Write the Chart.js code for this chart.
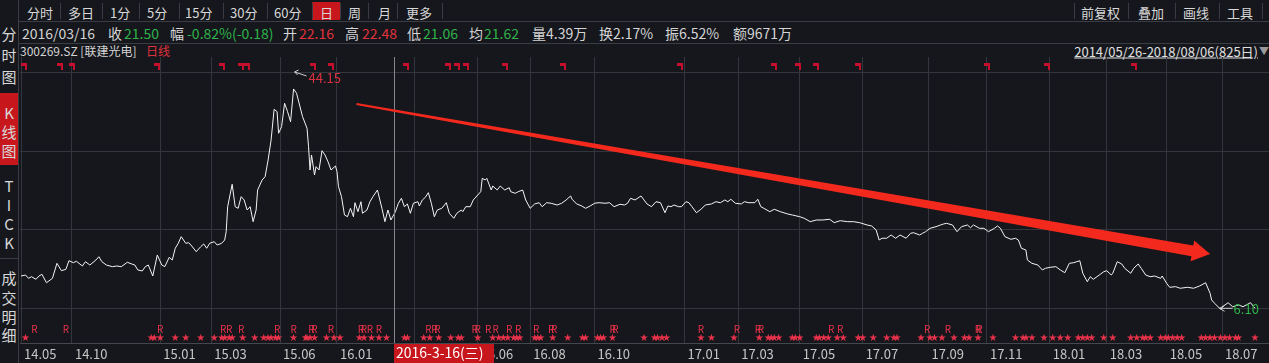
<!DOCTYPE html>
<html>
<head>
<meta charset="utf-8">
<script src="https://cdn.jsdelivr.net/npm/chart.js@4.4.1/dist/chart.umd.min.js"></script>
<style>
  body { margin:0; background:#15171c; width:1269px; height:363px; overflow:hidden; position:relative;
         font-family:"Microsoft YaHei","Noto Sans CJK SC","Noto Sans",sans-serif; color:#d4d4d4; }
  .t { position:absolute; line-height:1; white-space:nowrap; transform:translateY(-50%); }
  .ln { position:absolute; background:#3a3d44; }
  #wrap { position:absolute; left:18px; top:57px; width:1251px; height:306px; }
</style>
</head>
<body>
<div id="hdr"></div>
<div id="wrap"><canvas id="kchart" width="1251" height="306"></canvas></div>
<script>
// --- chart data: trading-day index (0 = 2014/05/26) and close price
const dayIdx = [0,3,5,7,10,12,14,17,21,24,27,30,32,35,37,41,43,46,50,52,54,57,61,64,67,71,74,76,78,81,83,85,88,91,94,96,99,101,103,105,107,110,112,114,117,120,122,124,126,129,131,134,136,137,138,141,143,145,147,149,151,153,155,157,158,161,163,165,167,169,171,172,174,176,178,180,182,184,186,188,191,192,193,194,196,197,199,201,203,205,207,210,211,212,214,216,218,220,222,223,225,227,228,231,233,235,238,241,243,245,247,250,252,254,256,258,260,262,265,266,268,270,272,274,276,278,281,284,286,289,291,294,295,297,300,302,305,307,308,310,311,314,315,318,320,323,326,327,330,332,335,337,340,343,346,348,351,354,358,361,364,367,368,371,374,377,380,383,386,390,393,396,400,403,405,407,410,414,416,418,421,424,427,430,432,434,436,439,441,444,446,448,451,454,457,461,464,467,470,472,474,477,481,483,486,490,492,494,496,500,503,507,512,515,520,523,527,531,535,540,543,547,552,556,560,565,568,571,573,575,578,581,584,587,591,594,596,600,602,604,607,611,614,616,618,622,625,628,632,634,636,640,643,646,650,652,654,657,661,664,666,668,671,672,675,679,682,684,687,691,694,697,700,703,707,709,712,714,716,720,723,725,728,729,732,735,737,741,743,746,748,751,754,757,761,762,765,767,771,774,779,783,787,791,794,795,797,801,803,806,809,813,816,821,824];
const closePx = [11.85,12.02,11.45,11.73,11.28,11.85,12.14,10.69,11.45,14.04,12.77,13.01,14.49,14.15,14.39,13.58,14.32,13.75,14.61,15.18,14.32,13.75,13.46,13.58,13.46,14.22,13.92,13.75,12.89,12.72,13.46,13.75,11.85,15.48,13.75,13.46,15.08,14.61,16.64,17.50,18.64,17.50,17.60,17.03,16.05,16.91,17.38,16.64,17.50,17.78,17.20,17.50,18.07,19.50,23.82,27.69,23.82,23.54,25.55,24.98,23.25,23.82,21.23,23.25,26.70,28.43,29.00,31.89,35.34,40.64,40.23,36.50,37.64,41.68,40.23,38.50,44.15,43.41,41.38,39.36,37.36,34.18,30.16,32.75,29.29,30.73,30.16,33.49,32.75,31.59,30.16,30.85,29.87,27.28,25.55,22.39,22.09,23.54,22.09,24.51,22.96,24.68,22.68,23.25,24.68,25.55,26.70,23.54,21.23,23.25,21.52,22.96,24.41,25.27,23.82,24.29,22.68,24.41,24.68,23.94,24.98,25.44,26.24,24.41,22.09,23.25,23.54,24.51,22.68,21.82,22.68,23.25,22.96,23.82,23.82,24.98,25.84,26.41,28.72,28.43,28.72,26.70,27.39,26.70,27.39,26.70,27.10,26.41,26.13,26.41,26.70,24.98,23.54,24.29,24.51,23.82,24.51,24.41,24.11,24.41,24.98,25.67,25.10,24.29,24.00,23.54,23.94,24.41,24.51,24.41,24.51,23.82,24.24,24.11,24.41,25.27,24.98,25.67,24.98,24.29,23.82,24.68,24.51,22.78,23.94,23.82,24.11,23.82,23.82,24.68,24.51,23.82,22.78,23.37,24.11,24.29,24.68,24.51,24.98,24.68,25.10,24.41,24.29,24.68,24.51,24.51,25.10,23.82,23.54,22.96,23.37,22.96,22.56,22.39,22.09,21.82,21.23,21.52,21.52,21.64,21.06,21.40,21.23,21.23,21.06,20.66,20.49,19.80,18.07,18.37,18.37,18.93,18.37,18.93,18.37,19.23,19.33,18.93,19.23,19.50,20.09,20.37,20.66,20.83,20.95,20.66,19.50,20.37,20.66,20.19,20.66,20.09,20.09,19.50,20.09,20.49,20.09,18.64,18.19,18.37,18.07,16.64,16.34,14.61,14.04,13.75,12.89,13.18,13.35,13.46,12.89,12.42,14.04,14.15,14.49,12.32,10.87,11.73,11.28,12.02,12.59,12.77,12.02,12.32,14.32,13.92,13.18,12.32,13.18,13.92,13.18,12.02,11.73,11.85,11.45,11.85,10.59,9.90,10.01,9.73,9.90,9.73,10.13,10.69,8.86,7.71,7.14,6.10,6.67,7.24,6.55,6.85,6.55,7.24,6.27];

// month ticks (trading-day index) and their labels
const monthIdx = [0,34,93,127,173,211,263,305,340,383,443,479,520,562,606,645,687,725,765,802];
const monthLabels = ['14.05','14.10','15.01','15.03','15.06','16.01','16.03','16.06','16.08','16.10','17.01','17.03','17.05','17.07','17.09','17.11','18.01','18.03','18.05','18.07'];
const gridPrices = [6.27, 19.80, 33.27, 46.91];

// event markers by trading-day index
const flagDays = [2,26,34,91,134,147,151,195,207,257,285,291,297,323,362,440,503,519,531,559,645,685,743];
const rDays = [9,30,93,135,139,147,171,182,194,196,207,227,229,233,239,272,276,278,303,305,312,317,326,332,344,354,356,395,397,454,478,492,494,541,547,605,619,639,640];
const starDays = [3,87,89,93,103,110,120,129,134,136,139,141,148,156,162,165,167,170,172,182,190,191,193,196,204,209,213,226,229,234,239,244,256,258,269,273,279,287,292,294,305,315,319,322,325,329,331,333,343,345,347,355,365,375,377,385,387,389,395,416,423,425,428,431,454,461,476,493,499,501,503,506,515,517,520,531,533,536,539,545,549,559,562,569,578,583,585,601,607,610,615,623,630,633,639,649,664,669,671,675,683,689,694,699,706,709,712,715,723,729,741,745,749,751,754,761,764,766,769,772,775,788,791,794,797,801,804,807,811,813,824];

const crossDay = 249;
const peak = {day:182, price:44.15};
const low = {day:801, price:6.10};
const trendArrow = {from:[224, 41.56], to:[794, 15.65]};

const FONT = '"Microsoft YaHei","Noto Sans CJK SC","Noto Sans",sans-serif';
const GREEN = '#2fb34a', RED = '#e0323c', WHITE = '#d4d4d4';

// ---- header / sidebar
const hdr = document.getElementById('hdr');
function put(text, x, cy, color, size, extra) {
  const s = document.createElement('span');
  s.className = 't';
  s.textContent = text;
  s.style.left = x + 'px';
  s.style.top = cy + 'px';
  s.style.color = color || WHITE;
  s.style.fontSize = (size || 13) + 'px';
  if (extra) Object.assign(s.style, extra);
  hdr.appendChild(s);
  return s;
}
function line(x, y, w, h, c) {
  const d = document.createElement('div');
  d.className = 'ln';
  d.style.left = x + 'px'; d.style.top = y + 'px';
  d.style.width = w + 'px'; d.style.height = h + 'px';
  if (c) d.style.background = c;
  hdr.appendChild(d);
}

// toolbar
const redBox = document.createElement('div');
Object.assign(redBox.style, {position:'absolute', left:'312px', top:'2px', width:'28px', height:'18px', background:'#c8161d'});
hdr.appendChild(redBox);
[['分时',27],['多日',68],['1分',110],['5分',147],['15分',185],['30分',230],['60分',274],['日',320],['周',348],['月',378],['更多',406],
 ['前复权',1081],['叠加',1138],['画线',1183],['工具',1227]].forEach(b => put(b[0], b[1], 12, '#d8d8d8', 13));
[60,102,139,179,223,267,312,340,368,397,442,1074,1128,1175,1219,1262].forEach(x => line(x, 3, 1, 16));
line(18, 21, 1251, 1);
line(18, 43, 1251, 1);
line(18, 0, 1, 363);

// info row
[['2016/03/16',22,WHITE],['收',108,WHITE],['21.50',124,GREEN],['幅',170,WHITE],['-0.82%(-0.18)',187,GREEN],
 ['开',283,WHITE],['22.16',299,RED],['高',345,WHITE],['22.48',362,RED],['低',407,WHITE],['21.06',423,GREEN],
 ['均',469,WHITE],['21.62',484,GREEN],['量4.39万',532,WHITE],['换2.17%',599,WHITE],['振6.52%',665,WHITE],['额9671万',733,WHITE]]
  .forEach(a => put(a[0], a[1], 33, a[2], 14));

// symbol row
put('300269.SZ [联建光电]', 20, 51, WHITE, 12);
put('日线', 146, 51, RED, 12);
put('2014/05/26-2018/08/06(825日)', 0, 51, '#e0e0e0', 13, {left:'auto', right:'11px', textDecoration:'underline'});
put('▼', 1259, 51, '#9a9a9a', 10);

// sidebar
const kBox = document.createElement('div');
Object.assign(kBox.style, {position:'absolute', left:'0px', top:'93px', width:'18px', height:'72px', background:'#c8161d'});
hdr.appendChild(kBox);
[['分',33],['时',54],['图',76],['K',112],['线',131],['图',150],['T',185],['I',204],['C',223],['K',242],['成',277],['交',297],['明',316],['细',334]]
  .forEach(c => put(c[0], 1, c[1], '#d8d8d8', 15, {width:'16px', textAlign:'center'}));
line(0, 258, 18, 1);

// ---- overlay marks drawn through the chart scales
const overlay = {
  id: 'overlay',
  afterDatasetsDraw(chart) {
    const {ctx, scales: {x, y}, chartArea} = chart;
    ctx.save();

    // crosshair
    const cx = Math.round(x.getPixelForValue(crossDay)) + 0.5;
    ctx.strokeStyle = '#85878c';
    ctx.lineWidth = 1;
    ctx.beginPath(); ctx.moveTo(cx, chartArea.top); ctx.lineTo(cx, chartArea.bottom); ctx.stroke();

    // top flags
    ctx.fillStyle = '#c4102c';
    flagDays.forEach(d => {
      const px = Math.round(x.getPixelForValue(d));
      ctx.fillRect(px - 3, 6, 6, 3);
      ctx.fillRect(px + 1, 6, 2, 7);
    });

    // R and star markers
    ctx.fillStyle = '#e8324a';
    ctx.textAlign = 'center';
    ctx.textBaseline = 'middle';
    ctx.font = '10px ' + FONT;
    rDays.forEach(d => ctx.fillText('R', x.getPixelForValue(d), 272));
    ctx.font = '10px "DejaVu Sans"';
    starDays.forEach(d => ctx.fillText('★', x.getPixelForValue(d), 281));

    // trend arrow
    const sx = x.getPixelForValue(trendArrow.from[0]), sy = y.getPixelForValue(trendArrow.from[1]);
    const tx = x.getPixelForValue(trendArrow.to[0]), ty = y.getPixelForValue(trendArrow.to[1]);
    const len = Math.hypot(tx - sx, ty - sy);
    const ux = (tx - sx) / len, uy = (ty - sy) / len;
    const nx = -uy, ny = ux;
    const bx = tx - ux * 18, by = ty - uy * 18;
    ctx.fillStyle = '#f3291d';
    ctx.beginPath();
    ctx.moveTo(sx + nx * 1, sy + ny * 1);
    ctx.lineTo(bx + nx * 5.5, by + ny * 5.5);
    ctx.lineTo(bx + nx * 10.5, by + ny * 10.5);
    ctx.lineTo(tx, ty);
    ctx.lineTo(bx - nx * 10.5, by - ny * 10.5);
    ctx.lineTo(bx - nx * 5.5, by - ny * 5.5);
    ctx.lineTo(sx - nx * 1, sy - ny * 1);
    ctx.closePath();
    ctx.fill();

    // high label
    const hx = x.getPixelForValue(peak.day), hy = y.getPixelForValue(peak.price);
    ctx.strokeStyle = '#cfcfcf';
    ctx.beginPath();
    ctx.moveTo(hx + 13, hy - 13); ctx.lineTo(hx + 1, hy - 17);
    ctx.moveTo(hx + 1, hy - 17); ctx.lineTo(hx + 5, hy - 19);
    ctx.moveTo(hx + 1, hy - 17); ctx.lineTo(hx + 4, hy - 14);
    ctx.stroke();
    ctx.fillStyle = '#d9303e';
    ctx.textAlign = 'left';
    ctx.font = '13px ' + FONT;
    ctx.fillText(peak.price.toFixed(2), hx + 15, hy - 11);

    // low label
    const lx = x.getPixelForValue(low.day), ly = y.getPixelForValue(low.price);
    ctx.strokeStyle = '#cfcfcf';
    ctx.beginPath();
    ctx.moveTo(lx - 1, ly - 1); ctx.lineTo(lx + 12, ly - 1);
    ctx.moveTo(lx - 1, ly - 1); ctx.lineTo(lx + 4, ly - 4);
    ctx.moveTo(lx - 1, ly - 1); ctx.lineTo(lx + 4, ly + 2);
    ctx.stroke();
    ctx.fillStyle = GREEN;
    ctx.fillText(low.price.toFixed(2), lx + 13, ly);
    ctx.restore();
  },
  afterDraw(chart) {
    const {ctx, scales: {x}, chartArea} = chart;
    const cx = Math.round(x.getPixelForValue(crossDay));
    ctx.save();
    ctx.fillStyle = '#c8161d';
    ctx.fillRect(cx, chartArea.bottom + 1, 100, 20);
    ctx.fillStyle = '#ffffff';
    ctx.font = '14px ' + FONT;
    ctx.textBaseline = 'middle';
    ctx.fillText('2016-3-16(三)', cx + 2, chartArea.bottom + 10);
    ctx.restore();
  }
};

new Chart(document.getElementById('kchart'), {
  type: 'line',
  data: {
    datasets: [{
      data: dayIdx.map((d, i) => ({x: d, y: closePx[i]})),
      borderColor: '#f4f4f4',
      borderWidth: 1,
      pointRadius: 0,
      tension: 0
    }]
  },
  options: {
    responsive: false,
    animation: false,
    events: [],
    layout: { padding: 0 },
    plugins: { legend: { display: false }, tooltip: { enabled: false } },
    scales: {
      x: {
        type: 'linear', min: -0.667, max: 833.33,
        afterBuildTicks: (axis) => { axis.ticks = monthIdx.map(v => ({value: v})); },
        afterFit: (axis) => { axis.height = 20; },
        grid: { color: '#33363d', drawTicks: false },
        border: { color: '#44474e' },
        ticks: {
          autoSkip: false, maxRotation: 0, align: 'start', labelOffset: 3, padding: 3,
          color: '#c6c6c6', font: { size: 13, family: FONT },
          callback: (v, i) => monthLabels[i]
        }
      },
      y: {
        min: 0.28, max: 49.67,
        afterBuildTicks: (axis) => { axis.ticks = gridPrices.map(v => ({value: v})); },
        afterFit: (axis) => { axis.width = 0; },
        grid: { color: '#33363d', drawTicks: false },
        border: { display: false },
        ticks: { display: false }
      }
    }
  },
  plugins: [overlay]
});
</script>
</body>
</html>
